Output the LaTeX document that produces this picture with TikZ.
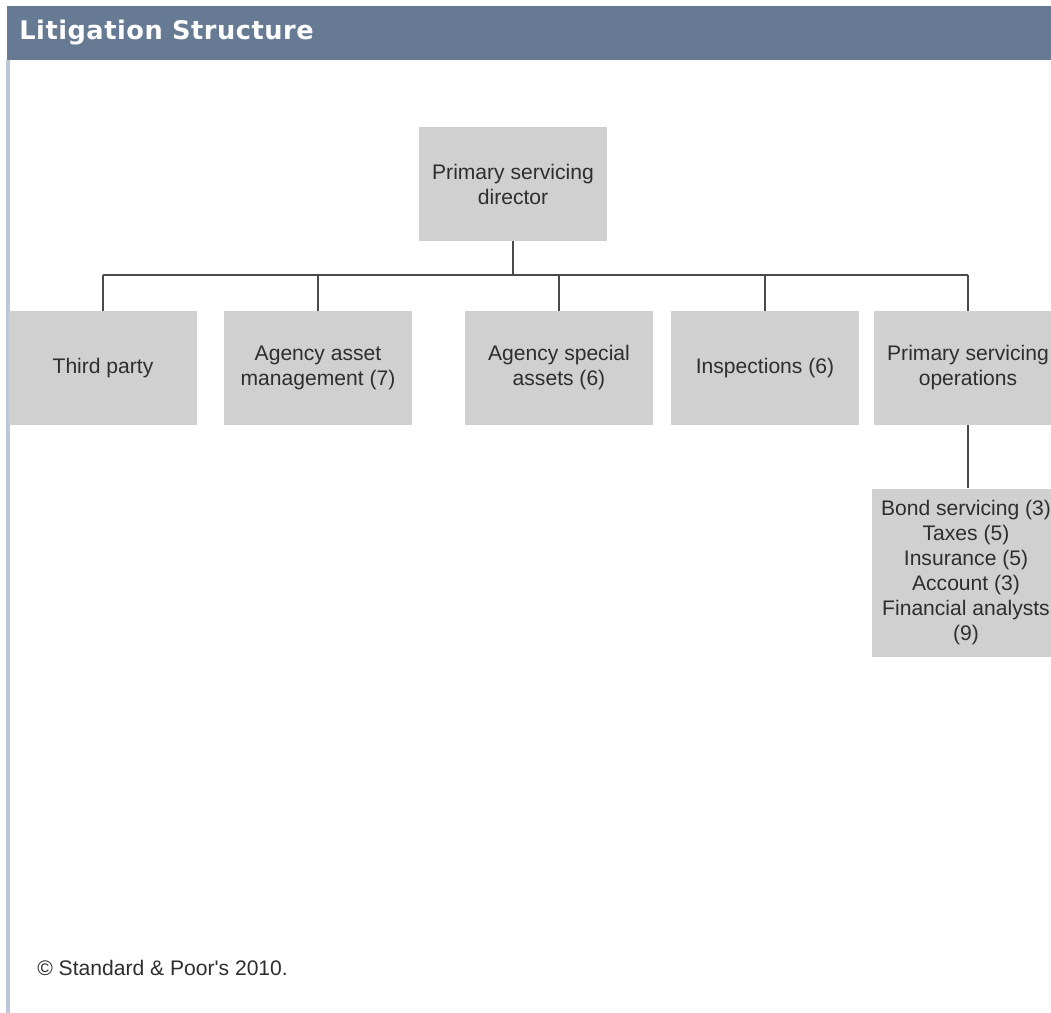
\documentclass[tikz,border=0pt]{standalone}
\usepackage{fontspec}
\setmainfont{Liberation Sans}
\newfontfamily\titlefont[LetterSpace=2]{DejaVu Sans}
\usetikzlibrary{positioning}
\definecolor{Slate}{HTML}{667A93}
\definecolor{Frame}{HTML}{BCC8D6}
\definecolor{BoxGray}{HTML}{D0D0D0}
\definecolor{Ink}{HTML}{2E2E2E}
\definecolor{Wire}{HTML}{4A4A4A}

\begin{document}
\begin{tikzpicture}[x=0.02cm,y=-0.02cm,node distance=1.26cm]
    \tikzset{
      unit/.style={fill=BoxGray,minimum width=3.78cm,minimum height=2.28cm,inner sep=0pt,
                   align=center,text=Ink,font=\fontsize{12}{14.2}\selectfont},
      link/.style={draw=Wire,line width=1.1pt}
    }
    \useasboundingbox (0,0) rectangle (1051,1013);
    \clip (0,0) rectangle (1051,1013);
    % frame and title bar
    \fill[Slate] (7,6) rectangle (1051,60);
    \draw[Frame,line width=2.2pt] (8,60) -- (8,1013);
    \node[anchor=base west,inner sep=0pt,text=white,font=\titlefont\bfseries\fontsize{14.6}{16}\selectfont]
      (title) at (19,39.5) {Litigation Structure};
    % org chart
    \node[unit] (director) at (513,184) {Primary servicing\\director};
    \node[unit] (third) at (103,368) {Third party};
    \node[unit] (asset) at (318,368) {Agency asset\\management (7)};
    \node[unit] (special) at (559,368) {Agency special\\assets (6)};
    \node[unit] (inspect) at (765,368) {Inspections (6)};
    \node[unit] (ops) at (968,368) {Primary servicing\\operations};
    \node[unit,minimum height=3.36cm,below=of ops,xshift=-0.04cm] (teams)
      {Bond servicing (3)\\Taxes (5)\\Insurance (5)\\Account (3)\\Financial analysts\\(9)};
    \coordinate (bus) at (513,275);
    \draw[link] (director.south) -- (bus);
    \draw[link] (third.north |- bus) -- (ops.north |- bus);
    \foreach \n in {third,asset,special,inspect,ops}
      \draw[link] (\n.north) -- (\n.north |- bus);
    \draw[link] (ops.south) -- (ops.south |- teams.north);
    \node[anchor=base west,inner sep=0pt,text=Ink,font=\fontsize{12}{14.2}\selectfont]
      (credit) at (37,975) {© Standard \& Poor\textquotesingle s 2010.};
\end{tikzpicture}
\end{document}
